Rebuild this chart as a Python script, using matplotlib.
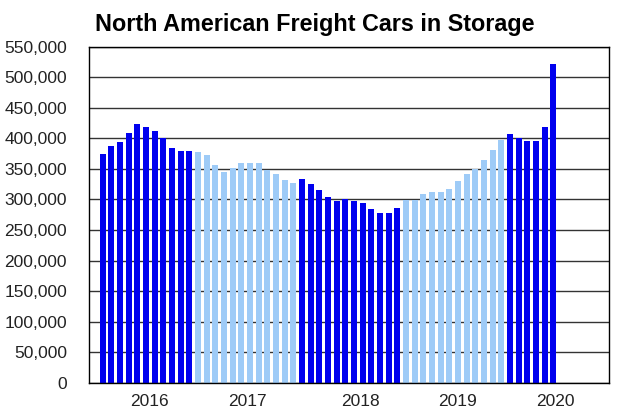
import numpy as np
import matplotlib
matplotlib.use("Agg")
import matplotlib.pyplot as plt
from matplotlib.ticker import FuncFormatter

# freight cars in storage, monthly
cars_stored = [
    374000, 387500, 394000, 409000, 423500, 419000, 412000, 400000, 384000, 379000, 379000,
    378000, 372500, 356500, 345500, 351000, 359000, 360000, 360000, 349000, 341500, 332000, 327500,
    334000, 326000, 316000, 304500, 297500, 300000, 298000, 293500, 285000, 278000, 278000, 285500,
    299000, 299500, 309000, 312500, 311500, 316500, 330000, 341000, 350000, 364500, 381000, 397000,
    408000, 401000, 395000, 395000, 418500, 521500,
]
# number of bars in each colour block (dark / light alternate)
block_sizes = [11, 12, 12, 12, 6]
year_labels = ["2016", "2017", "2018", "2019", "2020"]
year_label_pos = [5.35, 16.66, 29.7, 40.9, 52.3]

dark_blue = "#0000ee"
light_blue = "#9ecbf7"

plt.rcParams['font.family'] = ['Liberation Sans', 'DejaVu Sans']

fig = plt.figure(figsize=(6.19, 4.18), dpi=100)
ax = fig.add_axes([0.1443, 0.0845, 0.8391, 0.8035])

colors = []
for k, n in enumerate(block_sizes):
    colors += [dark_blue if k % 2 == 0 else light_blue] * n

x = np.arange(len(cars_stored))
ax.bar(x, cars_stored, width=0.7, color=colors, zorder=2)

ax.set_ylim(0, 550000)
ax.set_yticks(np.arange(0, 550001, 50000))
ax.yaxis.set_major_formatter(FuncFormatter(lambda v, p: f"{int(v):,}"))
ax.set_xlim(-1.55, 58.4)
ax.set_xticks(year_label_pos)
ax.set_xticklabels(year_labels)

ax.grid(axis="y", color="#333333", linewidth=1.0, zorder=1)
ax.tick_params(axis="y", length=0, pad=16, labelsize=12.5, colors="#222222")
ax.tick_params(axis="x", length=0, pad=8, labelsize=12.5, colors="#222222")
for s in ax.spines.values():
    s.set_color("black")
    s.set_linewidth(1.0)
    s.set_zorder(3)

fig.text(95 / 619, 1 - 31 / 418, "North American Freight Cars in Storage",
         fontsize=16.8, fontweight="bold", ha="left", va="baseline")

fig.savefig("out.png", dpi=100)
